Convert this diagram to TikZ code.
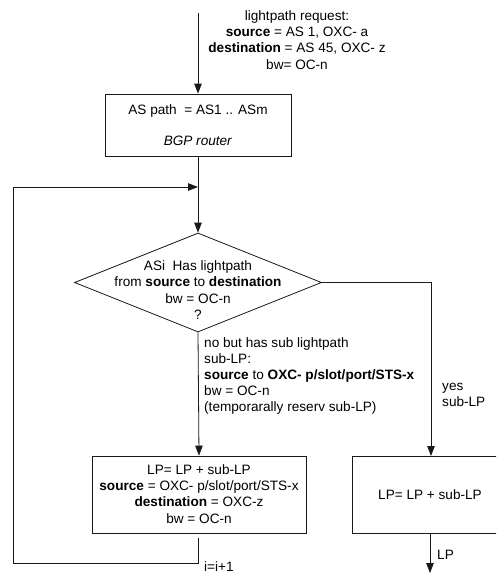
\documentclass[tikz,border=0pt]{standalone}
\usepackage{fontspec}
\setmainfont{Liberation Sans}
\usetikzlibrary{arrows.meta,shapes.geometric}
\begin{document}
\begin{tikzpicture}[x=1pt,y=-1pt,
  font=\fontsize{13.6}{16.2}\selectfont,
  line/.style={draw=black!90, line width=0.8pt},
  arr/.style={line, -{Triangle[length=10pt,width=7.5pt]}},
  box/.style={line, rectangle, inner sep=0pt},
  txt/.style={inner sep=0pt, align=center}
]
\useasboundingbox (0,0) rectangle (496,573);
\clip (0,0) rectangle (496,573);

\node[txt] (req) at (297,40) {lightpath request:\\ \textbf{source} = AS 1, OXC- a\\ \textbf{destination} = AS 45, OXC- z\\ bw= OC-n};
\coordinate (start) at (198,13);

\node[box, minimum width=186pt, minimum height=62pt] (bgp) at (198,125) {};
\node[txt] (bgptxt) at (bgp.center) {AS path\ \ = AS1 .. ASm\\[15.5pt]\textit{BGP router}};

\node[box, shape=diamond, minimum width=247pt, minimum height=99pt] (dec) at (198,282.5) {};
\node[txt] (dectxt) at (198,290) {ASi\ \ Has lightpath\\ from \textbf{source} to \textbf{destination}\\ bw = OC-n\\ ?};

\node[box, minimum width=214pt, minimum height=77pt] (sub) at (199,494.5) {};
\node[txt] (subtxt) at (199,494) {LP= LP + sub-LP\\ \textbf{source} = OXC- p/slot/port/STS-x\\ \textbf{destination} = OXC-z\\ bw = OC-n};

\node[box, minimum width=190pt, minimum height=77pt] (yes) at (447,494.5) {};
\node[txt] (yestxt) at (430,494.5) {LP= LP + sub-LP};

\coordinate (loopin) at (198,187);
\coordinate (yesin) at (431,456);
\coordinate (yesout) at (430,533);
\coordinate (turn) at (yesin |- dec.east);
\coordinate (lpend) at (430,573);
\coordinate (l1) at (198,538);
\coordinate (l2) at (198,563);
\coordinate (l3) at (13,563);
\coordinate (l4) at (13,187);

\draw[arr] (start) -- (bgp.north);
\draw[line] (bgp.south) -- (loopin);
\draw[arr] (loopin) -- (dec.north);
\draw[arr] (dec.south) -- (sub.north);
\draw[arr] (dec.east) -- (turn) -- (yesin);
\draw[arr] (yesout) -- (lpend);
\draw[arr] (l1) -- (l2) -- (l3) -- (l4) -- (loopin);

\node[txt, align=left, anchor=north west] (nolab) at (204,337) {no but has sub lightpath\\ sub-LP:\\ \textbf{source} to \textbf{OXC- p/slot/port/STS-x}\\ bw = OC-n\\ (temporarally reserv sub-LP)};
\node[txt, align=left, anchor=north west] (yeslab) at (442,383) {yes\\ sub-LP};
\node[txt, anchor=west] (lplab) at (437,555) {LP};
\node[txt, anchor=base west] (inc) at (204,571) {i=i+1};
\end{tikzpicture}
\end{document}
